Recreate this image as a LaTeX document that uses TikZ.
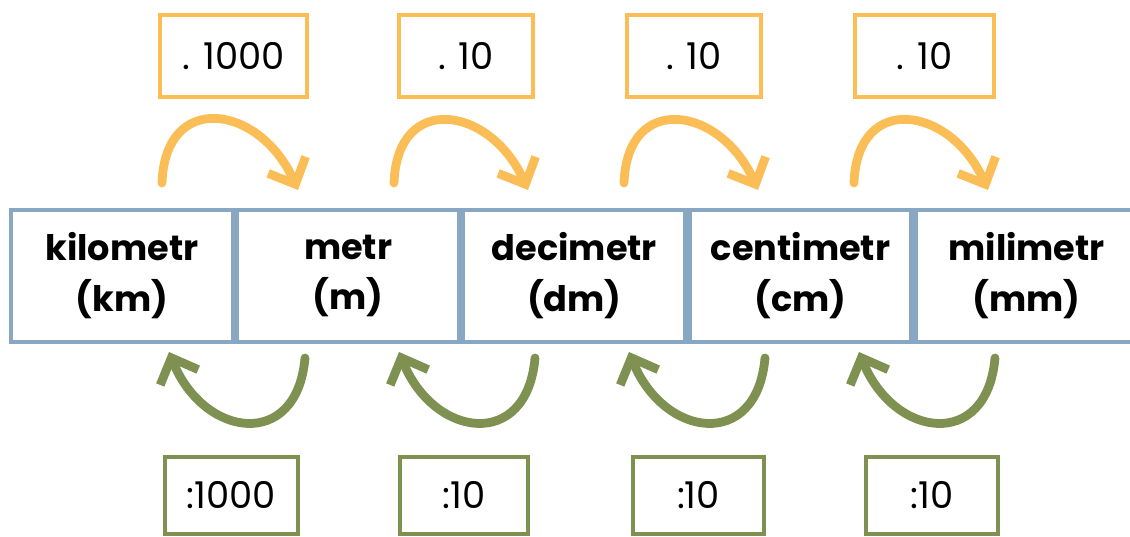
\documentclass[tikz,border=0pt]{standalone}
\usepackage{fontspec}
\setmainfont{Poppins}
\usetikzlibrary{arrows.meta,positioning}
\definecolor{unitblue}{RGB}{135,167,194}
\definecolor{mulorange}{RGB}{251,190,87}
\definecolor{divgreen}{RGB}{126,145,80}

\begin{document}
\begin{tikzpicture}[x=0.02cm,y=0.02cm,
  unit/.style={draw=unitblue, line width=2.4pt, minimum width=4.44cm, minimum height=2.64cm,
    inner sep=0pt, align=center, font=\fontsize{20}{29}\selectfont\bfseries},
  mul/.style={draw=mulorange, line width=2.3pt, minimum height=1.64cm, font=\fontsize{21}{25}\selectfont},
  div/.style={draw=divgreen, line width=2.3pt, minimum height=1.54cm, font=\fontsize{21}{25}\selectfont},
  fwd/.style={mulorange, line width=5pt, line cap=round, -{Straight Barb[length=0.42cm,width=0.82cm]}},
  bwd/.style={divgreen, line width=5pt, line cap=round, -{Straight Barb[length=0.42cm,width=0.82cm]}}]
\useasboundingbox (0,0) rectangle (1130,-537);

% units
\node[unit] (km) at (122,-276) {kilometr\\(km)};
\node[unit, right=0pt of km] (m) {metr\\(m)};
\node[unit, right=0pt of m] (dm) {decimetr\\(dm)};
\node[unit, right=0pt of dm] (cm) {centimetr\\(cm)};
\node[unit, right=0pt of cm] (mm) {milimetr\\(mm)};

% multiply
\node[mul, minimum width=2.94cm] (mul1) at (233.5,-56) {. 1000};
\node[mul, minimum width=2.68cm] (mul2) at (466,-56) {. 10};
\node[mul, minimum width=2.68cm] (mul3) at (694,-56) {. 10};
\node[mul, minimum width=2.78cm] (mul4) at (924.5,-56) {. 10};

% divide
\node[div, minimum width=2.66cm] (div1) at (231.5,-495.5) {:1000};
\node[div, minimum width=2.56cm] (div2) at (464,-495.5) {:10};
\node[div, minimum width=2.62cm] (div3) at (698.5,-495.5) {:10};
\node[div, minimum width=2.64cm] (div4) at (932,-495.5) {:10};

% arrow ends
\coordinate (f1a) at (162,-183); \coordinate (f1b) at (298,-190);
\coordinate (f2a) at (394,-183); \coordinate (f2b) at (528,-190);
\coordinate (f3a) at (624,-183); \coordinate (f3b) at (758,-190);
\coordinate (f4a) at (854,-183); \coordinate (f4b) at (988,-190);
\coordinate (b1a) at (305,-358); \coordinate (b1b) at (169,-352);
\coordinate (b2a) at (535,-358); \coordinate (b2b) at (399,-352);
\coordinate (b3a) at (765,-358); \coordinate (b3b) at (629,-352);
\coordinate (b4a) at (995,-358); \coordinate (b4b) at (859,-352);

\draw[fwd] (f1a) to[out=88,in=114,looseness=1.75] (f1b);
\draw[fwd] (f2a) to[out=88,in=114,looseness=1.75] (f2b);
\draw[fwd] (f3a) to[out=88,in=114,looseness=1.75] (f3b);
\draw[fwd] (f4a) to[out=88,in=114,looseness=1.75] (f4b);

\draw[bwd] (b1a) to[out=265,in=292,looseness=1.75] (b1b);
\draw[bwd] (b2a) to[out=265,in=292,looseness=1.75] (b2b);
\draw[bwd] (b3a) to[out=265,in=292,looseness=1.75] (b3b);
\draw[bwd] (b4a) to[out=265,in=292,looseness=1.75] (b4b);
\end{tikzpicture}
\end{document}
